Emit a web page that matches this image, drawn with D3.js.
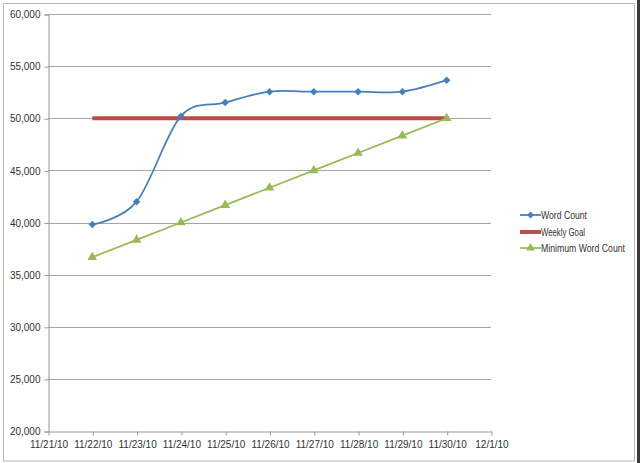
<!DOCTYPE html>
<html>
<head>
<meta charset="utf-8">
<script src="https://cdn.jsdelivr.net/npm/d3@7"></script>
<style>
  body { margin: 0; background: #fff; }
  text { font-family: "Liberation Sans", Arial, sans-serif; font-size: 10px; fill: #333; }
</style>
</head>
<body>
<div id="chart"></div>
<script>
// chart data
var dates = ["11/22/10", "11/23/10", "11/24/10", "11/25/10", "11/26/10", "11/27/10", "11/28/10", "11/29/10", "11/30/10"];
var wordCount = [39800, 42000, 50200, 51500, 52550, 52550, 52550, 52550, 53650];
var weeklyGoal = [50000, 50000, 50000, 50000, 50000, 50000, 50000, 50000, 50000];
var minWordCount = [36667, 38333, 40000, 41667, 43333, 45000, 46667, 48333, 50000];
var xTickLabels = ["11/21/10", "11/22/10", "11/23/10", "11/24/10", "11/25/10", "11/26/10", "11/27/10", "11/28/10", "11/29/10", "11/30/10", "12/1/10"];
var yTicks = [20000, 25000, 30000, 35000, 40000, 45000, 50000, 55000, 60000];
var seriesNames = ["Word Count", "Weekly Goal", "Minimum Word Count"];

var svgWidth = 640;
var svgHeight = 463;

var svg = d3.select("#chart")
  .append("svg")
  .attr("width", svgWidth)
  .attr("height", svgHeight);

// outer frame + dark strip on the right
svg.append("rect")
  .attr("x", 3.5).attr("y", 3.5)
  .attr("width", 631).attr("height", 457.5)
  .attr("fill", "#fff")
  .attr("stroke", "#b8b8b8");
svg.append("rect")
  .attr("x", 637).attr("y", 0)
  .attr("width", 3).attr("height", svgHeight)
  .attr("fill", "#3a3a3a");

var parse = d3.timeParse("%m/%d/%y");

var xScale = d3.scaleTime()
  .domain([parse("11/21/10"), parse("12/1/10")])
  .range([48, 491]);

var yScale = d3.scaleLinear()
  .domain([20000, 60000])
  .range([431, 14]);

// gridlines
svg.append("g")
  .selectAll("line")
  .data(yTicks.slice(1))
  .enter()
  .append("line")
  .attr("x1", 48).attr("x2", 491)
  .attr("y1", d => Math.round(yScale(d)) + 0.5)
  .attr("y2", d => Math.round(yScale(d)) + 0.5)
  .attr("stroke", "#a6a6a6");

// y axis
var yAxis = svg.append("g")
  .attr("transform", "translate(48.5,0.5)")
  .call(d3.axisLeft(yScale).tickValues(yTicks).tickSize(4).tickPadding(4).tickFormat(d3.format(",")));
yAxis.select(".domain").attr("stroke", "#999");
yAxis.selectAll(".tick line").attr("stroke", "#999");
yAxis.selectAll("text").attr("fill", "#333").style("font-size", "10px");

// x axis
var xAxis = svg.append("g")
  .attr("transform", "translate(0.5,431.5)")
  .call(d3.axisBottom(xScale)
    .tickValues(xTickLabels.map(parse))
    .tickSize(4).tickSizeOuter(0).tickPadding(5)
    .tickFormat((d, i) => xTickLabels[i]));
xAxis.select(".domain").attr("stroke", "#999");
xAxis.selectAll(".tick line").attr("stroke", "#999");
xAxis.selectAll("text").attr("fill", "#333").style("font-size", "10px");

var blue = "#4a7ebb";
var red = "#be4b48";
var green = "#98b954";

var points = function(values) {
  return values.map((v, i) => [xScale(parse(dates[i])), yScale(v)]);
};

// weekly goal
svg.append("path")
  .attr("d", d3.line()(points(weeklyGoal)))
  .attr("fill", "none")
  .attr("stroke", red)
  .attr("stroke-width", 4);

// minimum word count
svg.append("path")
  .attr("d", d3.line()(points(minWordCount)))
  .attr("fill", "none")
  .attr("stroke", green)
  .attr("stroke-width", 1.75);

svg.append("g")
  .selectAll("path")
  .data(points(minWordCount))
  .enter()
  .append("path")
  .attr("transform", d => `translate(${d[0]},${d[1]})`)
  .attr("d", d3.symbol().type(d3.symbolTriangle).size(40))
  .attr("fill", green);

// word count, smoothed
svg.append("path")
  .attr("d", d3.line().curve(d3.curveCardinal.tension(0))(points(wordCount)))
  .attr("fill", "none")
  .attr("stroke", blue)
  .attr("stroke-width", 1.75);

svg.append("g")
  .selectAll("path")
  .data(points(wordCount))
  .enter()
  .append("path")
  .attr("transform", d => `translate(${d[0]},${d[1]})`)
  .attr("d", d3.symbol().type(d3.symbolDiamond2).size(36))
  .attr("fill", blue);

// legend
var legend = svg.append("g").attr("transform", "translate(520,0)");
var legendY = [215, 232, 248];
var legendTextWidth = [46, 44, 84];

seriesNames.forEach(function(name, i) {
  var y = legendY[i];
  var color = [blue, red, green][i];
  legend.append("line")
    .attr("x1", 0).attr("x2", 21)
    .attr("y1", y).attr("y2", y)
    .attr("stroke", color)
    .attr("stroke-width", i === 1 ? 4 : 1.75);
  if (i === 0) {
    legend.append("path")
      .attr("transform", `translate(10.5,${y})`)
      .attr("d", d3.symbol().type(d3.symbolDiamond2).size(30))
      .attr("fill", color);
  }
  if (i === 2) {
    legend.append("path")
      .attr("transform", `translate(10.5,${y})`)
      .attr("d", d3.symbol().type(d3.symbolTriangle).size(34))
      .attr("fill", color);
  }
  legend.append("text")
    .attr("x", 21)
    .attr("y", y)
    .attr("dy", "0.35em")
    .attr("textLength", legendTextWidth[i])
    .attr("lengthAdjust", "spacingAndGlyphs")
    .text(name);
});
</script>
</body>
</html>
